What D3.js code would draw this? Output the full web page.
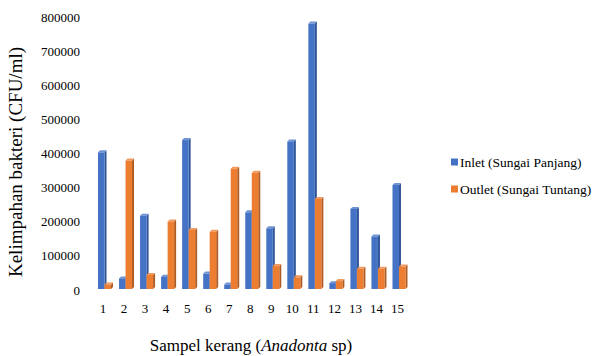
<!DOCTYPE html>
<html><head><meta charset="utf-8">
<script src="https://cdn.jsdelivr.net/npm/d3@7/dist/d3.min.js"></script>
<style>body{margin:0;background:#fff}svg{display:block}</style>
</head><body><svg id="c" width="595" height="356"></svg>
<script>
const categories = ["1","2","3","4","5","6","7","8","9","10","11","12","13","14","15"];
const inlet  = [410000, 40000, 224000, 45000, 446000, 54000, 22000, 234000, 187000, 442000, 788000, 26000, 244000, 163000, 314000];
const outlet = [22000, 386000, 50000, 207000, 182000, 177000, 362000, 350000, 76000, 43000, 273000, 32000, 68000, 68000, 75000];
const seriesNames = ["Inlet (Sungai Panjang)", "Outlet (Sungai Tuntang)"];
const yTicks = [0,100000,200000,300000,400000,500000,600000,700000,800000];

const colors = [
  {front:"#4472C4", side:"#2F5597", top:"#6F93D3"},
  {front:"#ED7D31", side:"#B05B22", top:"#F29A5E"}
];
const font = "'Liberation Serif','Times New Roman',serif";
const svg = d3.select("#c");

const x = d3.scaleBand().domain(categories).range([92.5, 408]);
const y = d3.scaleLinear().domain([0, 800000]).range([290, 17.5]);
const bw = 6.5, depth = 2;

// y tick labels
svg.append("g").selectAll("text").data(yTicks).join("text")
  .attr("x", 80).attr("y", d => y(d)).attr("dy", "0.35em")
  .attr("text-anchor", "end").attr("font-family", font).attr("font-size", 13).attr("fill", "#000")
  .text(d => d);

// x labels
svg.append("g").selectAll("text").data(categories).join("text")
  .attr("x", d => x(d) + x.bandwidth()/2).attr("y", 308).attr("dy", "0.35em")
  .attr("text-anchor", "middle").attr("font-family", font).attr("font-size", 13).attr("fill", "#000")
  .text(d => d);

const series = [inlet, outlet];
const base = y(0) - 1;
series.forEach((vals, si) => {
  const g = svg.append("g");
  const c = colors[si];
  vals.forEach((v, i) => {
    const x0 = x(categories[i]) + x.bandwidth()/2 - 5 + si*bw;
    const yt = y(v) + depth;
    g.append("path").attr("d", `M${x0+bw},${yt} L${x0+bw+depth},${yt-depth} L${x0+bw+depth},${base-depth} L${x0+bw},${base} Z`).attr("fill", c.side);
    g.append("path").attr("d", `M${x0},${yt} L${x0+depth},${yt-depth} L${x0+bw+depth},${yt-depth} L${x0+bw},${yt} Z`).attr("fill", c.top);
    g.append("rect").attr("x", x0).attr("y", yt).attr("width", bw).attr("height", Math.max(0, base - yt)).attr("fill", c.front);
  });
});

// axis titles
svg.append("text").attr("transform", "translate(22,162) rotate(-90)")
  .attr("text-anchor", "middle").attr("font-family", font).attr("font-size", 19).attr("fill", "#000")
  .text("Kelimpahan bakteri (CFU/ml)");
const xt = svg.append("text").attr("x", 251).attr("y", 351)
  .attr("text-anchor", "middle").attr("font-family", font).attr("font-size", 17).attr("fill", "#000");
xt.append("tspan").text("Sampel kerang (");
xt.append("tspan").attr("font-style", "italic").text("Anadonta");
xt.append("tspan").text(" sp)");

// legend
const lg = svg.append("g").attr("transform", "translate(451,162)");
seriesNames.forEach((n, i) => {
  const r = lg.append("g").attr("transform", `translate(0,${i*27})`);
  r.append("rect").attr("x", 0).attr("y", -3.5).attr("width", 7).attr("height", 7).attr("fill", colors[i].front);
  r.append("text").attr("x", 9).attr("y", 0).attr("dy", "0.35em").attr("font-family", font).attr("font-size", 13.5).attr("fill", "#000").text(n);
});
</script></body></html>
